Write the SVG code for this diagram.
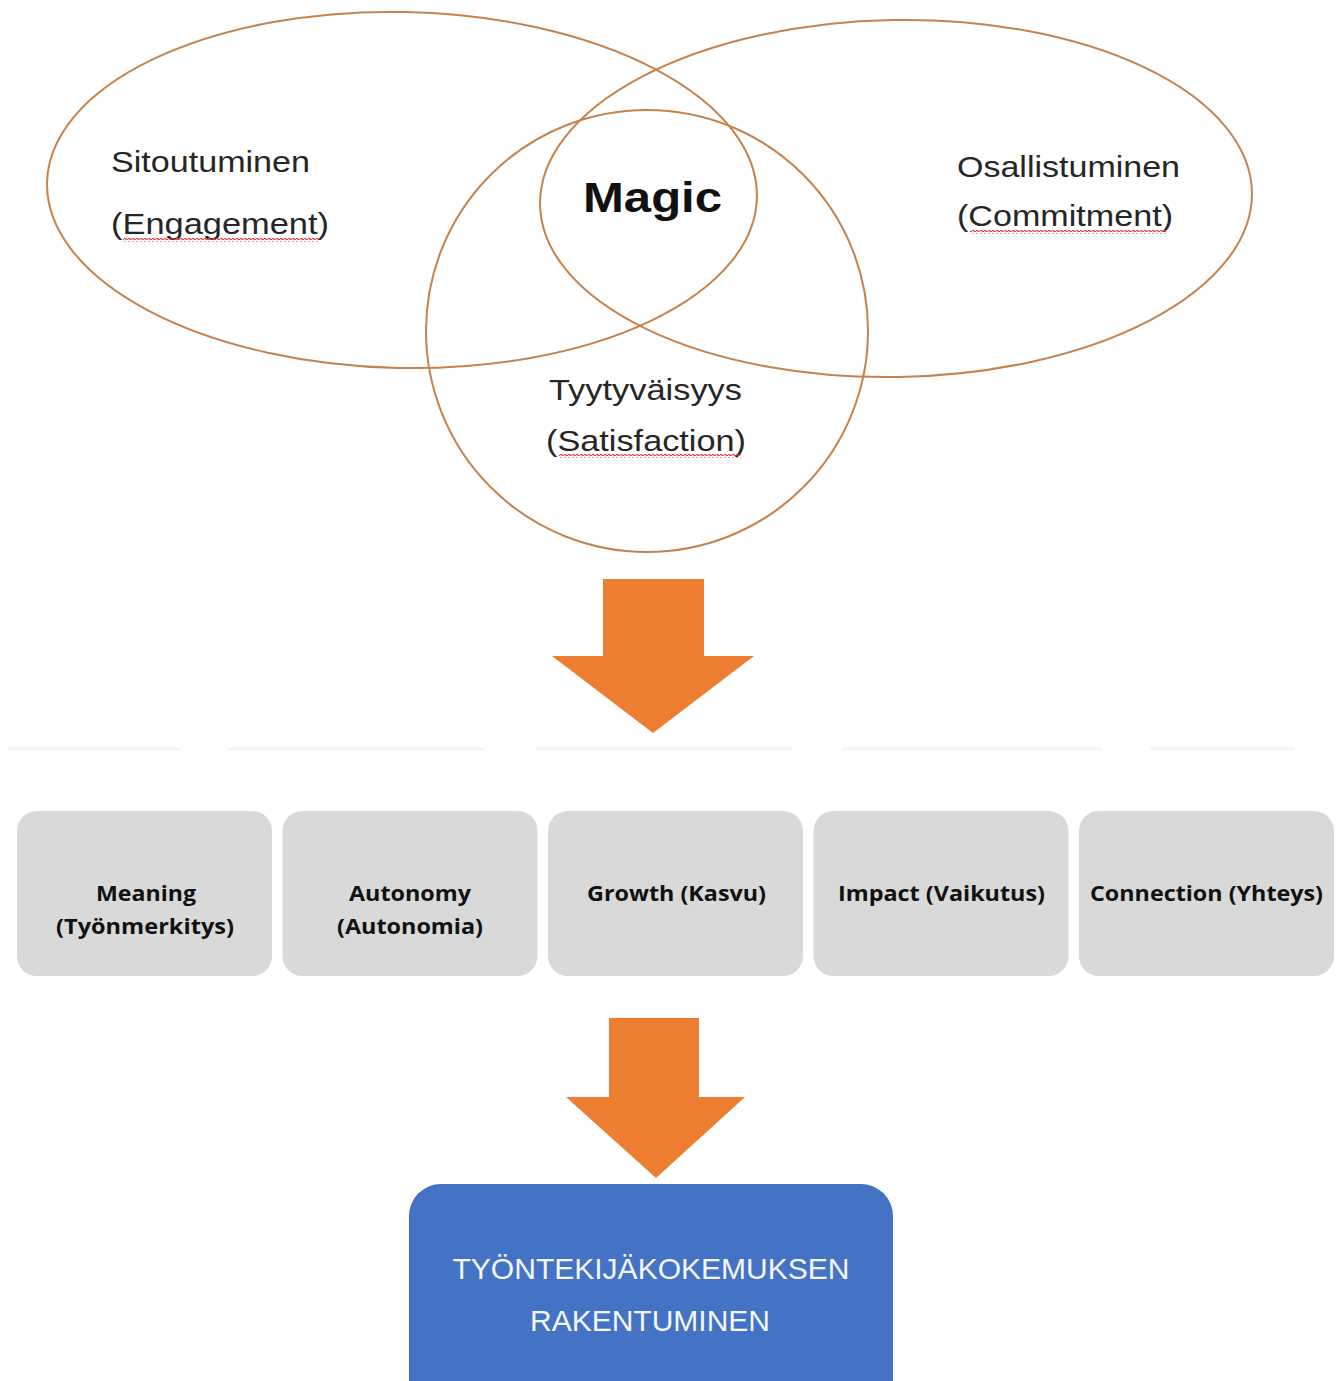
<svg xmlns="http://www.w3.org/2000/svg" width="1342" height="1381" viewBox="0 0 1342 1381">
<defs>
<style>
.ring{fill:none;stroke:#c7824c;stroke-width:2}
.lbl{font-family:"Liberation Sans",Arial,sans-serif;font-size:29px;fill:#262626}
.magic{font-family:"Liberation Sans",Arial,sans-serif;font-size:42px;font-weight:bold;fill:#111}
.arrow{fill:#ed7d31}
.box{fill:#d9d9d9}
.btxt{font-family:"Open Sans","DejaVu Sans",sans-serif;font-size:21px;font-weight:bold;fill:#111;text-anchor:middle}
.blue{fill:#4472c4}
.wtxt{font-family:"Liberation Sans",Arial,sans-serif;font-size:30px;fill:#f4f6fb;text-anchor:middle}
.faint{stroke:#f4f4f4;stroke-width:3}
</style>
<pattern id="wave" x="0" y="0" width="4" height="4" patternUnits="userSpaceOnUse">
<path d="M0,3 Q1,0.6 2,3 T4,3" fill="none" stroke="#e03a3a" stroke-width="1.3"/>
</pattern>
</defs>
<rect width="1342" height="1381" fill="#ffffff"/>

<g id="venn">
<ellipse id="engagement-ring" class="ring" cx="402" cy="190" rx="355" ry="178" transform="rotate(1.2 402 190)"/>
<ellipse id="commitment-ring" class="ring" cx="896" cy="198.5" rx="356" ry="178.5" transform="rotate(-1 896 198.5)"/>
<circle id="satisfaction-ring" class="ring" cx="647" cy="331" r="221"/>
</g>

<g id="node-engagement">
<text class="lbl" x="111" y="172" textLength="199" lengthAdjust="spacingAndGlyphs">Sitoutuminen</text>
<text class="lbl" x="111" y="234" textLength="218" lengthAdjust="spacingAndGlyphs">(Engagement)</text>
<rect x="123" y="238" width="196" height="4" fill="url(#wave)"/>
</g>
<g id="node-magic">
<text class="magic" x="583" y="212" textLength="139" lengthAdjust="spacingAndGlyphs">Magic</text>
</g>
<g id="node-commitment">
<text class="lbl" x="957" y="177" textLength="223" lengthAdjust="spacingAndGlyphs">Osallistuminen</text>
<text class="lbl" x="957" y="226" textLength="216" lengthAdjust="spacingAndGlyphs">(Commitment)</text>
<rect x="970" y="230" width="196" height="4" fill="url(#wave)"/>
</g>
<g id="node-satisfaction">
<text class="lbl" x="549" y="400" textLength="193" lengthAdjust="spacingAndGlyphs">Tyytyväisyys</text>
<text class="lbl" x="546" y="451" textLength="200" lengthAdjust="spacingAndGlyphs">(Satisfaction)</text>
<rect x="559" y="454" width="182" height="4" fill="url(#wave)"/>
</g>

<g id="connectors">
<polygon id="arrow-1" class="arrow" points="603,579 704,579 704,656 754,656 653,733 552,656 603,656"/>
<polygon id="arrow-2" class="arrow" points="609,1018 699,1018 699,1097 745,1097 656,1178 566,1097 609,1097"/>
</g>

<g id="separator">
<line class="faint" x1="8" y1="749" x2="180" y2="749"/>
<line class="faint" x1="228" y1="749" x2="484" y2="749"/>
<line class="faint" x1="536" y1="749" x2="792" y2="749"/>
<line class="faint" x1="842" y1="749" x2="1102" y2="749"/>
<line class="faint" x1="1150" y1="749" x2="1295" y2="749"/>
</g>

<g id="node-meaning">
<rect class="box" x="17" y="811" width="255" height="165" rx="20"/>
<text class="btxt" x="146" y="901" textLength="100" lengthAdjust="spacingAndGlyphs">Meaning</text>
<text class="btxt" x="145" y="934" textLength="178" lengthAdjust="spacingAndGlyphs">(Työnmerkitys)</text>
</g>
<g id="node-autonomy">
<rect class="box" x="282.5" y="811" width="255" height="165" rx="20"/>
<text class="btxt" x="410" y="901" textLength="122" lengthAdjust="spacingAndGlyphs">Autonomy</text>
<text class="btxt" x="410" y="934" textLength="146" lengthAdjust="spacingAndGlyphs">(Autonomia)</text>
</g>
<g id="node-growth">
<rect class="box" x="548" y="811" width="255" height="165" rx="20"/>
<text class="btxt" x="676.5" y="901" textLength="179" lengthAdjust="spacingAndGlyphs">Growth (Kasvu)</text>
</g>
<g id="node-impact">
<rect class="box" x="813.5" y="811" width="255" height="165" rx="20"/>
<text class="btxt" x="941.5" y="901" textLength="207" lengthAdjust="spacingAndGlyphs">Impact (Vaikutus)</text>
</g>
<g id="node-connection">
<rect class="box" x="1079" y="811" width="255" height="165" rx="20"/>
<text class="btxt" x="1206.5" y="901" textLength="233" lengthAdjust="spacingAndGlyphs">Connection (Yhteys)</text>
</g>

<g id="node-result">
<rect class="blue" x="409" y="1184" width="484" height="240" rx="32"/>
<text class="wtxt" x="651" y="1279" textLength="397" lengthAdjust="spacingAndGlyphs">TYÖNTEKIJÄKOKEMUKSEN</text>
<text class="wtxt" x="650" y="1331" textLength="240" lengthAdjust="spacingAndGlyphs">RAKENTUMINEN</text>
</g>
</svg>
